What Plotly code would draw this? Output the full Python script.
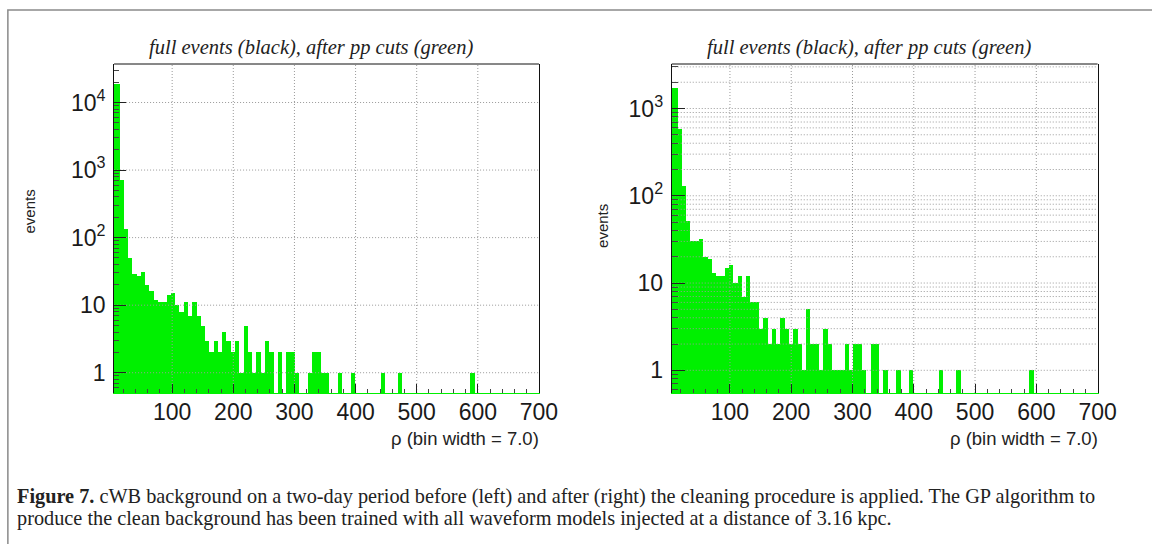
import plotly.graph_objects as go

W, H = 1152, 544

# ---------------- data ----------------
bin_width = 7.0
n_bins = 100
bin_centers = [bin_width * (i + 0.5) for i in range(n_bins)]

left_counts = [0] * n_bins
left_nonzero = {
    0: 19000, 1: 19000, 2: 720, 3: 135, 4: 50, 5: 29, 6: 27, 7: 31, 8: 20, 9: 16,
    10: 12, 11: 11, 12: 11, 13: 14, 14: 15, 15: 10, 16: 8, 17: 11, 18: 7, 19: 11,
    20: 7, 21: 5, 22: 3, 23: 2, 24: 3, 25: 2, 26: 4, 27: 3, 28: 2, 29: 3,
    30: 1, 31: 5, 32: 2, 33: 1, 34: 2, 35: 1, 36: 3, 37: 2, 39: 2, 41: 2,
    42: 2, 43: 1, 46: 1, 47: 2, 48: 2, 49: 1, 50: 1, 53: 1, 56: 1, 63: 1, 67: 1, 84: 1,
}
for k, v in left_nonzero.items():
    left_counts[k] = v

right_counts = [0] * n_bins
right_nonzero = {
    0: 1700, 1: 1700, 2: 590, 3: 130, 4: 52, 5: 30, 6: 30, 7: 32, 8: 20, 9: 19,
    10: 13, 11: 12, 12: 12, 13: 15, 14: 16, 15: 10, 16: 12, 17: 7, 18: 12, 19: 6,
    20: 6, 21: 3, 22: 4, 23: 2, 24: 3, 25: 2, 26: 4, 27: 3, 28: 2, 29: 3,
    30: 2, 31: 1, 32: 5, 33: 2, 34: 2, 35: 1, 36: 3, 37: 2, 38: 1, 39: 1,
    40: 1, 41: 2, 42: 1, 43: 2, 44: 2, 45: 1, 47: 2, 48: 2, 50: 1, 53: 1,
    56: 1, 63: 1, 67: 1, 84: 1,
}
for k, v in right_nonzero.items():
    right_counts[k] = v

x_tickvals = [100, 200, 300, 400, 500, 600, 700]
x_ticktext = ["100", "200", "300", "400", "500", "600", "700"]
x_grid = [100, 200, 300, 400, 500, 600]
left_y_tickvals = [1, 10, 100, 1000, 10000]
left_y_ticktext = ["1", "10", "10<sup>2</sup>", "10<sup>3</sup>", "10<sup>4</sup>"]
right_y_tickvals = [1, 10, 100, 1000]
right_y_ticktext = ["1", "10", "10<sup>2</sup>", "10<sup>3</sup>"]

panel_title = "full events (black), after pp cuts (green)"
x_title = "ρ (bin width = 7.0)"
y_title = "events"
caption_bold = "Figure 7."
caption_line1 = (" cWB background on a two-day period before (left) and after (right) the "
                 "cleaning procedure is applied. The GP algorithm to")
caption_line2 = ("produce the clean background has been trained with all waveform models "
                 "injected at a distance of 3.16 kpc.")

# ---------------- layout geometry ----------------
x_range = [5, 700]
left_yrange = [-0.30, 4.57]
right_yrange = [-0.26, 3.51]

GREEN = "#00f000"
GRID = "#9a9a9a"

fig = go.Figure()

def add_panel(counts, xa, ya, yrange, grid_y):
    fig.add_trace(go.Bar(
        x=bin_centers, y=counts, width=bin_width,
        marker=dict(color=GREEN, line=dict(width=0)),
        xaxis=xa, yaxis=ya, showlegend=False, hoverinfo="skip",
    ))
    ylo, yhi = 10 ** yrange[0], 10 ** yrange[1]
    gx, gy = [], []
    for v in x_grid:
        gx += [v, v, None]
        gy += [ylo, yhi, None]
    for v in grid_y:
        gx += [x_range[0], x_range[1], None]
        gy += [v, v, None]
    fig.add_trace(go.Scatter(
        x=gx, y=gy, mode="lines",
        line=dict(color=GRID, width=1, dash="1px,2px"),
        xaxis=xa, yaxis=ya, showlegend=False, hoverinfo="skip",
    ))

left_grid_y = left_y_tickvals
right_grid_y = [m * 10 ** e for e in range(0, 4) for m in range(1, 10) if m * 10 ** e <= 3200]

add_panel(left_counts, "x", "y", left_yrange, left_grid_y)
add_panel(right_counts, "x2", "y2", right_yrange, right_grid_y)

tick_font = dict(family="Liberation Sans, Arial, sans-serif", size=23, color="#1a1a1a")

def xaxis_cfg(domain, anchor):
    return dict(
        domain=domain, anchor=anchor, range=x_range,
        tickmode="array", tickvals=x_tickvals, ticktext=x_ticktext,
        ticks="inside", ticklen=9, tickcolor="#222", tickwidth=1,
        minor=dict(tickmode="linear", tick0=0, dtick=20, ticks="inside", ticklen=4,
                   tickcolor="#444", showgrid=False),
        showgrid=False, zeroline=False,
        showline=True, linecolor=GREEN, linewidth=1,
        tickfont=tick_font, ticklabelstandoff=-2,
    )

def minor_vals(yrange):
    out = []
    for e in range(-1, 6):
        for m in range(2, 10):
            v = m * 10 ** e
            if 10 ** yrange[0] <= v <= 10 ** yrange[1]:
                out.append(v)
    return out

def yaxis_cfg(domain, anchor, yrange, tv, tt, majlen, minlen):
    return dict(
        domain=domain, anchor=anchor, type="log", range=yrange,
        tickmode="array", tickvals=tv, ticktext=tt,
        ticks="inside", ticklen=majlen, tickcolor="#222", tickwidth=1,
        minor=dict(tickmode="array", tickvals=minor_vals(yrange), ticks="inside",
                   ticklen=minlen, tickcolor="#444", showgrid=False),
        showgrid=False, zeroline=False,
        showline=True, linecolor="#111", linewidth=1, mirror=True,
        tickfont=tick_font, ticklabelstandoff=3,
    )

ydom = [1 - 393 / H, 1 - 64 / H]
fig.update_layout(
    width=W, height=H, autosize=False,
    margin=dict(l=0, r=0, t=0, b=0),
    paper_bgcolor="white", plot_bgcolor="white",
    barmode="overlay", bargap=0,
    xaxis=xaxis_cfg([116 / W, 548 / W], "y"),
    yaxis=yaxis_cfg(ydom, "x", left_yrange, left_y_tickvals, left_y_ticktext, 12, 5),
    xaxis2=xaxis_cfg([683 / W, 1116 / W], "y2"),
    yaxis2=yaxis_cfg(ydom, "x2", right_yrange, right_y_tickvals, right_y_ticktext, 13, 6),
)

shapes = []
for xr, yr in (("x domain", "y domain"), ("x2 domain", "y2 domain")):
    shapes.append(dict(type="line", xref=xr, yref=yr, x0=0, x1=1, y0=1, y1=1,
                       line=dict(color="#111", width=1), layer="above"))
# outer figure frame
shapes.append(dict(type="rect", xref="paper", yref="paper",
                   x0=8 / W, x1=1.02, y0=-0.05, y1=1 - 10 / H,
                   line=dict(color="#8a8a8a", width=1.5), layer="below"))
fig.update_layout(shapes=shapes)

serif = "Liberation Serif, Times New Roman, serif"
sans = "Liberation Sans, Arial, sans-serif"
ann = []
for cx in (316, 884):
    ann.append(dict(text="<i>" + panel_title + "</i>", xref="paper", yref="paper",
                    x=cx / W, y=1 - 47 / H, xanchor="center", yanchor="middle",
                    showarrow=False, font=dict(family=serif, size=20.5, color="#222")))
for rx in (550, 1118):
    ann.append(dict(text=x_title, xref="paper", yref="paper",
                    x=rx / W, y=1 - 438 / H, xanchor="right", yanchor="middle",
                    showarrow=False, font=dict(family=sans, size=18.5, color="#222")))
for lx, ly in ((30, 212), (612, 226)):
    ann.append(dict(text=y_title, xref="paper", yref="paper", textangle=-90,
                    x=lx / W, y=1 - ly / H, xanchor="center", yanchor="middle",
                    showarrow=False, font=dict(family=sans, size=15, color="#222")))
ann.append(dict(text="<b>" + caption_bold + "</b>" + caption_line1, xref="paper", yref="paper",
                x=15 / W, y=1 - 496 / H, xanchor="left", yanchor="middle",
                showarrow=False, font=dict(family=serif, size=20.3, color="#222")))
ann.append(dict(text=caption_line2, xref="paper", yref="paper",
                x=15 / W, y=1 - 518 / H, xanchor="left", yanchor="middle",
                showarrow=False, font=dict(family=serif, size=20.3, color="#222")))
fig.update_layout(annotations=ann)

fig.write_html(
    "out.html",
    config={"responsive": False},
    post_script="document.body.style.margin='0';document.body.style.overflow='hidden';",
)
